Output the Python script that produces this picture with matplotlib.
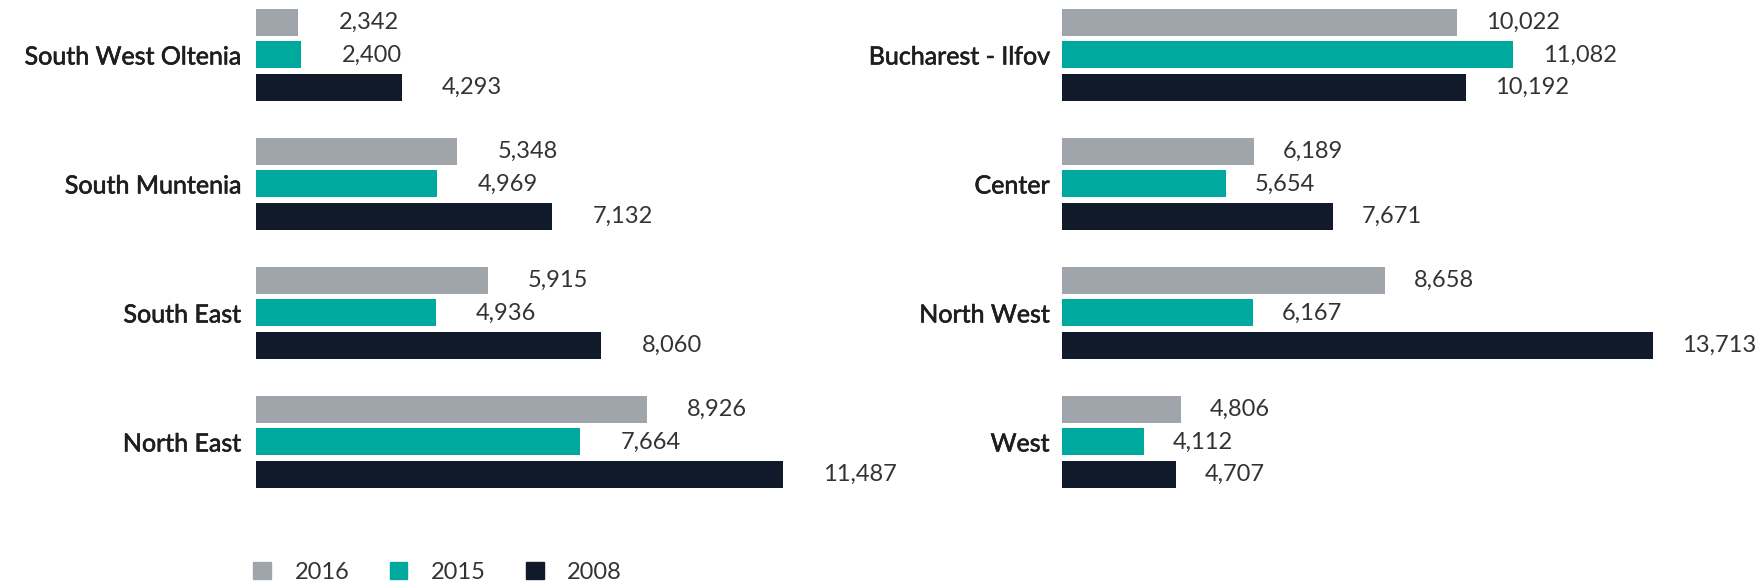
import matplotlib.pyplot as plt
import matplotlib.patheffects as pe
from matplotlib.patches import Patch
import numpy as np

plt.rcParams['font.family'] = ['Lato', 'DejaVu Sans']

# data
years = ['2016', '2015', '2008']
left_regions = ['South West Oltenia', 'South Muntenia', 'South East', 'North East']
left_2016 = [2342, 5348, 5915, 8926]
left_2015 = [2400, 4969, 4936, 7664]
left_2008 = [4293, 7132, 8060, 11487]

right_regions = ['Bucharest - Ilfov', 'Center', 'North West', 'West']
right_2016 = [10022, 6189, 8658, 4806]
right_2015 = [11082, 5654, 6167, 4112]
right_2008 = [10192, 7671, 13713, 4707]

colors = ['#a0a4ab', '#00a99d', '#111a2b']
pitch = 0.252
height = 0.21


def draw_panel(ax, regions, series, xlim, label_pad, label_offset):
    y = np.arange(len(regions))
    for k, vals in enumerate(series):
        pos = y + (k - 1) * pitch
        ax.barh(pos, vals, height=height, color=colors[k], left=0)
        for p, v in zip(pos, vals):
            ax.annotate(f'{v:,}', (v, p), xytext=(label_offset, 0),
                        textcoords='offset points', ha='left', va='center',
                        fontsize=17, color='#333333')
    ax.set_xlim(*xlim)
    ax.set_ylim(3.45, -0.426)
    ax.set_yticks(y, regions, fontsize=18, color='#1e1e1e')
    # a touch heavier than regular, like the original's medium weight
    for t in ax.get_yticklabels():
        t.set_path_effects([pe.withStroke(linewidth=0.45, foreground='#1e1e1e')])
    ax.tick_params(axis='y', length=0, pad=label_pad)
    ax.set_xticks([])
    for s in ax.spines.values():
        s.set_visible(False)


fig = plt.figure(figsize=(17.62, 5.88), dpi=100)
W, H = 1762, 588

ax1 = fig.add_axes([256 / W, 1 - 500 / H, 700 / W, 500 / H])
draw_panel(ax1, left_regions, [left_2016, left_2015, left_2008],
           (1547, 1547 + 700 / 0.053), 11, 29)

ax2 = fig.add_axes([1062 / W, 1 - 500 / H, 690 / W, 500 / H])
draw_panel(ax2, right_regions, [right_2016, right_2015, right_2008],
           (2565, 2565 + 690 / 0.053), 9, 21)

handles = [Patch(color=c, label=yr) for c, yr in zip(colors, years)]
fig.legend(handles=handles, loc='lower left', bbox_to_anchor=(232 / W, -0.027),
           ncol=3, frameon=False, fontsize=17, handlelength=0.75, handleheight=0.75,
           handletextpad=1.0, columnspacing=1.7, labelcolor='#333333')

fig.savefig('out.png', dpi=100)
